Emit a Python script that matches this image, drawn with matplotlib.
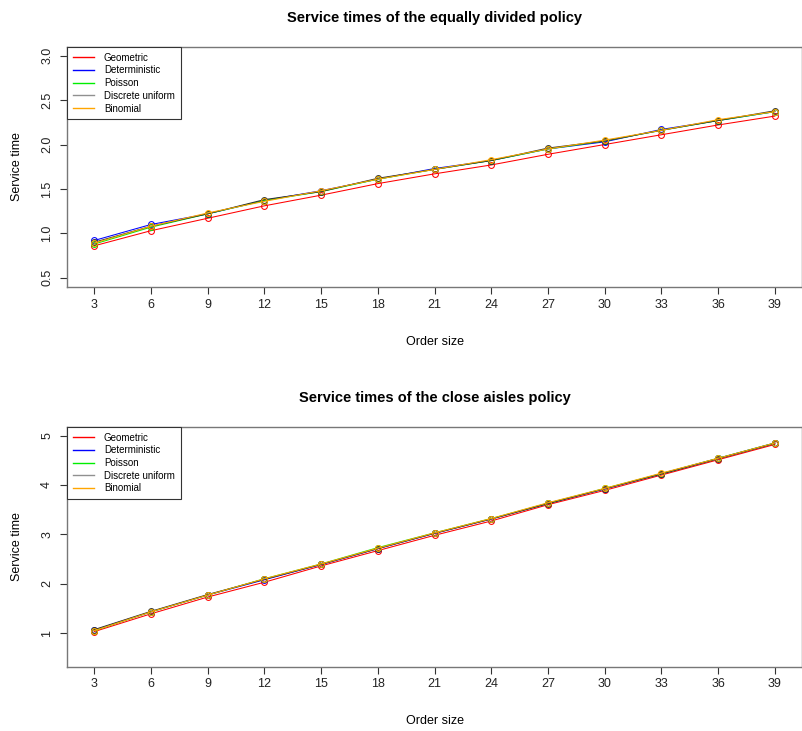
import matplotlib.pyplot as plt
from matplotlib.lines import Line2D

plt.rcParams['font.family'] = ['Liberation Sans', 'DejaVu Sans']

order_size = [3, 6, 9, 12, 15, 18, 21, 24, 27, 30, 33, 36, 39]
series_names = ['Geometric', 'Deterministic', 'Poisson', 'Discrete uniform', 'Binomial']
line_colors = ['#ff0000', '#0000ff', '#00ee00', '#333333', '#ffa500']
legend_colors = ['#ff0000', '#0000ff', '#00ee00', '#909090', '#ffa500']

# equally divided policy
eq_geometric = [0.86, 1.03, 1.17, 1.31, 1.43, 1.56, 1.67, 1.77, 1.89, 2.00, 2.11, 2.22, 2.32]
eq_deterministic = [0.92, 1.10, 1.22, 1.37, 1.48, 1.61, 1.73, 1.82, 1.95, 2.03, 2.17, 2.27, 2.37]
eq_poisson = [0.88, 1.07, 1.22, 1.37, 1.47, 1.61, 1.72, 1.82, 1.95, 2.04, 2.16, 2.27, 2.37]
eq_uniform = [0.90, 1.08, 1.22, 1.38, 1.47, 1.62, 1.72, 1.82, 1.96, 2.04, 2.16, 2.27, 2.38]
eq_binomial = [0.89, 1.08, 1.23, 1.36, 1.48, 1.61, 1.72, 1.83, 1.95, 2.05, 2.16, 2.28, 2.37]

# close aisles policy
ca_geometric = [1.03, 1.39, 1.73, 2.03, 2.36, 2.67, 2.98, 3.27, 3.60, 3.89, 4.20, 4.51, 4.82]
ca_deterministic = [1.06, 1.43, 1.77, 2.08, 2.39, 2.71, 3.02, 3.31, 3.63, 3.92, 4.23, 4.54, 4.85]
ca_poisson = [1.05, 1.43, 1.77, 2.10, 2.40, 2.73, 3.03, 3.32, 3.63, 3.93, 4.23, 4.54, 4.85]
ca_uniform = [1.07, 1.44, 1.78, 2.09, 2.39, 2.71, 3.02, 3.31, 3.62, 3.92, 4.22, 4.53, 4.84]
ca_binomial = [1.05, 1.43, 1.77, 2.10, 2.40, 2.72, 3.03, 3.32, 3.64, 3.93, 4.24, 4.54, 4.85]

eq_data = [eq_geometric, eq_deterministic, eq_poisson, eq_uniform, eq_binomial]
ca_data = [ca_geometric, ca_deterministic, ca_poisson, ca_uniform, ca_binomial]

fig = plt.figure(figsize=(8.03, 7.31), dpi=100)
ax1 = fig.add_axes([0.0834, 0.6078, 0.9154, 0.3282])
ax2 = fig.add_axes([0.0834, 0.0880, 0.9154, 0.3283])


def draw_panel(ax, data, title, ylim, yticks):
    for vals, col in zip(data, line_colors):
        ax.plot(order_size, vals, color=col, lw=0.75, marker='o', ms=4.2,
                mfc='none', mec=col, mew=0.75)
    lo, hi = ylim
    pad = (hi - lo) * 0.04
    ax.set_ylim(lo - pad, hi + pad)
    ax.set_xlim(3 - 36 * 0.04, 39 + 36 * 0.04)
    ax.set_xticks(order_size)
    ax.set_yticks(yticks)
    ax.set_yticklabels([str(t) for t in yticks], rotation=90, va='center')
    ax.tick_params(labelsize=9, length=5, color='#333333', labelcolor='#222222')
    ax.tick_params(axis='y', pad=5)
    for s in ax.spines.values():
        s.set_color('#777777')
        s.set_linewidth(1)
    ax.set_title(title, fontsize=10.5, fontweight='bold', pad=18)
    ax.set_xlabel('Order size', fontsize=9, labelpad=18)
    ax.set_ylabel('Service time', fontsize=9, labelpad=13)
    handles = [Line2D([0], [0], color=c, lw=1) for c in legend_colors]
    leg = ax.legend(handles, series_names, loc='upper left', fontsize=7,
                    borderaxespad=0, fancybox=False, framealpha=1,
                    handlelength=2.2, labelspacing=0.28, borderpad=0.6,
                    handletextpad=1.0)
    leg.get_frame().set_edgecolor('#333333')
    leg.get_frame().set_linewidth(0.8)


draw_panel(ax1, eq_data, 'Service times of the equally divided policy',
           (0.5, 3.0), [0.5, 1.0, 1.5, 2.0, 2.5, 3.0])
draw_panel(ax2, ca_data, 'Service times of the close aisles policy',
           (0.5, 5.0), [1, 2, 3, 4, 5])

fig.savefig('out.png', dpi=100)
